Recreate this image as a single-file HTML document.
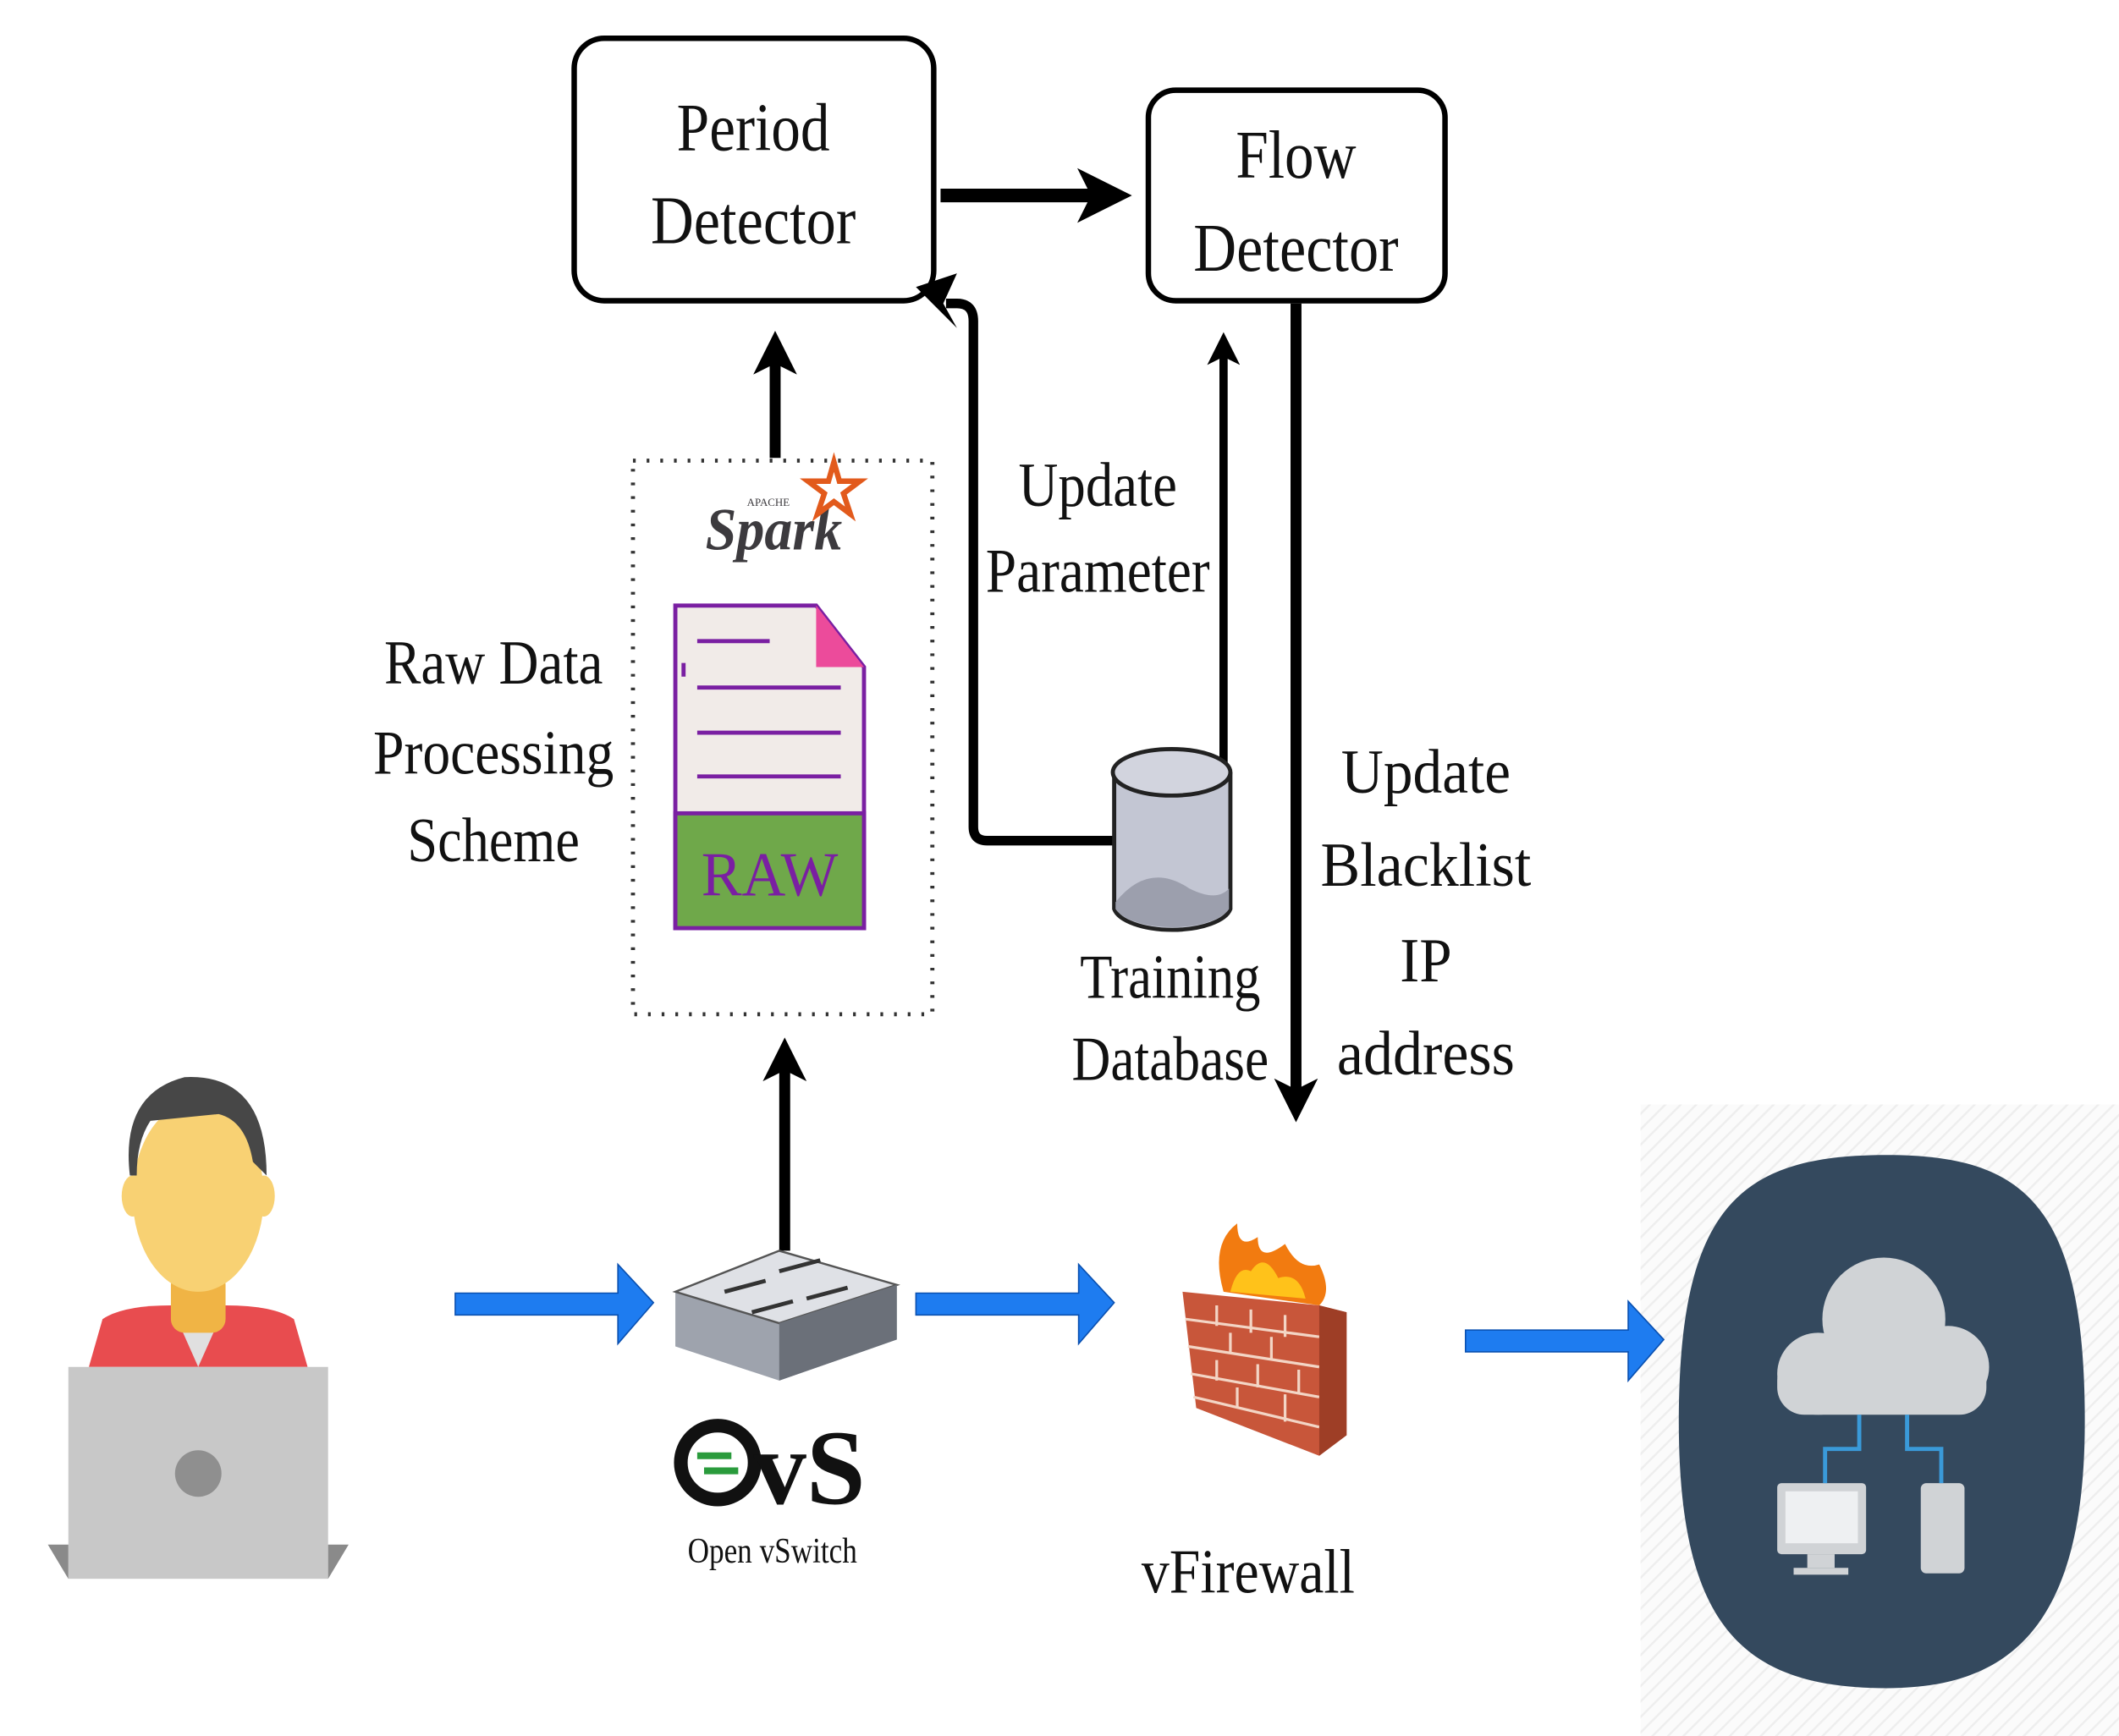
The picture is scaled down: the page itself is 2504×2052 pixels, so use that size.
<!DOCTYPE html>
<html><head><meta charset="utf-8"><style>
html,body{margin:0;padding:0;background:#fff;}
svg{display:block;}
text{font-family:"Liberation Serif",serif;fill:#111;}
</style></head><body>
<svg width="2504" height="2052" viewBox="0 0 1550 1270" preserveAspectRatio="none" xmlns="http://www.w3.org/2000/svg">
<defs>
<marker id="ah" markerWidth="4" markerHeight="4" refX="2" refY="2" orient="auto" markerUnits="strokeWidth">
<path d="M0,0 L4,2 L0,4 L1,2 Z" fill="#000"/></marker>
<pattern id="hatch" width="8" height="8" patternUnits="userSpaceOnUse" patternTransform="rotate(45)">
<rect width="8" height="8" fill="#fbfbfb"/><line x1="0" y1="0" x2="0" y2="8" stroke="#eee" stroke-width="3"/></pattern>
</defs>
<rect x="1200" y="808" width="350" height="462" fill="url(#hatch)"/>
<!-- boxes -->
<rect x="420" y="28" width="263" height="192" rx="22" fill="#fff" stroke="#000" stroke-width="4"/>
<text x="551" y="110" font-size="50" text-anchor="middle" textLength="112" lengthAdjust="spacingAndGlyphs">Period</text>
<text x="551" y="178" font-size="50" text-anchor="middle" textLength="150" lengthAdjust="spacingAndGlyphs">Detector</text>
<rect x="840" y="66" width="217" height="154" rx="20" fill="#fff" stroke="#000" stroke-width="4"/>
<text x="948" y="130" font-size="50" text-anchor="middle" textLength="88" lengthAdjust="spacingAndGlyphs">Flow</text>
<text x="948" y="198" font-size="50" text-anchor="middle" textLength="150" lengthAdjust="spacingAndGlyphs">Detector</text>
<!-- arrows -->
<line x1="688" y1="143" x2="808" y2="143" stroke="#000" stroke-width="10" marker-end="url(#ah)"/>
<line x1="567" y1="335" x2="567" y2="258" stroke="#000" stroke-width="8" marker-end="url(#ah)"/>
<path d="M815,615 L722,615 Q712,615 712,605 L712,235 Q712,222 700,222 L692,222" fill="none" stroke="#000" stroke-width="7"/>
<path d="M670,210 L700,200 L690,222 L700,240 Z" fill="#000"/>
<line x1="895" y1="568" x2="895" y2="255" stroke="#000" stroke-width="6" marker-end="url(#ah)"/>
<line x1="948" y1="222" x2="948" y2="805" stroke="#000" stroke-width="8" marker-end="url(#ah)"/>
<line x1="574" y1="915" x2="574" y2="775" stroke="#000" stroke-width="8" marker-end="url(#ah)"/>
<!-- dotted box -->
<rect x="463" y="337" width="219" height="405" fill="none" stroke="#333" stroke-width="3" stroke-dasharray="2 8"/>
<!-- spark -->
<text x="566" y="402" font-family="Liberation Sans,sans-serif" font-size="44" font-weight="bold" font-style="italic" text-anchor="middle" style="fill:#3c3a3e" textLength="100" lengthAdjust="spacingAndGlyphs">Spark</text>
<text x="562" y="370" font-family="Liberation Sans,sans-serif" font-size="8" text-anchor="middle" style="fill:#3c3a3e">APACHE</text>
<path d="M610,338 L614,352 L629,352 L617,361 L622,376 L610,367 L598,376 L603,361 L591,352 L606,352 Z" fill="none" stroke="#e25a1c" stroke-width="4"/>
<!-- raw file -->
<path d="M494,443 L597,443 L632,488 L632,679 L494,679 Z" fill="#f1ebe8" stroke="#7a1fa2" stroke-width="3"/>
<path d="M597,443 L632,488 L597,488 Z" fill="#ec4b9b"/>
<rect x="494" y="595" width="138" height="84" fill="#6fa84a" stroke="#7a1fa2" stroke-width="3"/>
<g stroke="#7a1fa2" stroke-width="3"><line x1="510" y1="469" x2="563" y2="469"/><line x1="510" y1="503" x2="615" y2="503"/><line x1="510" y1="536" x2="615" y2="536"/><line x1="510" y1="568" x2="615" y2="568"/><line x1="500" y1="485" x2="500" y2="495"/></g>
<text x="563" y="655" font-family="DejaVu Sans,sans-serif" font-size="46" text-anchor="middle" style="fill:#7a1fa2" textLength="100" lengthAdjust="spacingAndGlyphs">RAW</text>
<!-- labels -->
<g font-size="46" text-anchor="middle">
<text x="361" y="500" textLength="160" lengthAdjust="spacingAndGlyphs">Raw Data</text>
<text x="361" y="566" textLength="176" lengthAdjust="spacingAndGlyphs">Processing</text>
<text x="361" y="630" textLength="126" lengthAdjust="spacingAndGlyphs">Scheme</text>
<text x="803" y="370" textLength="116" lengthAdjust="spacingAndGlyphs">Update</text>
<text x="803" y="433" textLength="164" lengthAdjust="spacingAndGlyphs">Parameter</text>
<text x="1043" y="580" textLength="124" lengthAdjust="spacingAndGlyphs">Update</text>
<text x="1043" y="648" textLength="154" lengthAdjust="spacingAndGlyphs">Blacklist</text>
<text x="1043" y="718" textLength="38" lengthAdjust="spacingAndGlyphs">IP</text>
<text x="1043" y="786" textLength="130" lengthAdjust="spacingAndGlyphs">address</text>
<text x="856" y="730" textLength="132" lengthAdjust="spacingAndGlyphs">Training</text>
<text x="856" y="790" textLength="144" lengthAdjust="spacingAndGlyphs">Database</text>
<text x="913" y="1165" textLength="156" lengthAdjust="spacingAndGlyphs">vFirewall</text>
</g>
<!-- database -->
<path d="M815,565 L815,665 A43,18 0 0 0 900,665 L900,565" fill="#c3c6d3" stroke="#222" stroke-width="3"/>
<path d="M816,660 Q840,630 870,650 Q890,660 899,650 L899,665 A43,18 0 0 1 816,665 Z" fill="#9c9fad"/>
<ellipse cx="857" cy="565" rx="43" ry="17" fill="#d2d4de" stroke="#222" stroke-width="3"/>
<!-- blue arrows -->
<g fill="#1e7cf0" stroke="#0a50b0" stroke-width="1">
<path d="M333,946 L452,946 L452,925 L478,953 L452,983 L452,962 L333,962 Z"/>
<path d="M670,946 L789,946 L789,925 L815,953 L789,983 L789,962 L670,962 Z"/>
<path d="M1072,973 L1191,973 L1191,952 L1217,980 L1191,1010 L1191,989 L1072,989 Z"/>
</g>
<!-- person -->
<path d="M65,1000 L75,965 Q90,955 125,955 L165,955 Q200,955 215,965 L225,1000 Z" fill="#e84c4f"/>
<path d="M125,955 L145,1000 L165,955 Z" fill="#e0e0e0"/>
<rect x="125" y="930" width="40" height="45" rx="10" fill="#f0b445"/>
<ellipse cx="145" cy="875" rx="48" ry="70" fill="#f8d173"/>
<ellipse cx="97" cy="875" rx="8" ry="15" fill="#f8d173"/><ellipse cx="193" cy="875" rx="8" ry="15" fill="#f8d173"/>
<path d="M95,860 Q88,800 135,788 Q195,785 195,860 L185,850 Q180,820 160,815 L110,820 Q100,835 100,860 Z" fill="#474747"/>
<rect x="50" y="1000" width="190" height="155" fill="#c8c8c8"/>
<path d="M35,1130 L50,1130 L50,1155 Z M255,1130 L240,1130 L240,1155 Z" fill="#8a8a8a"/>
<circle cx="145" cy="1078" r="17" fill="#8f8f8f"/>
<!-- switch -->
<path d="M494,945 L570,915 L656,940 L656,980 L570,1010 L494,985 Z" fill="#9ea3ad"/>
<path d="M494,945 L570,915 L656,940 L570,968 Z" fill="#dfe1e6" stroke="#555" stroke-width="1.5"/>
<path d="M570,968 L570,1010 L656,980 L656,940 Z" fill="#6b7079"/>
<g stroke="#333" stroke-width="3"><line x1="530" y1="945" x2="560" y2="937"/><line x1="570" y1="930" x2="600" y2="922"/><line x1="550" y1="960" x2="580" y2="952"/><line x1="590" y1="950" x2="620" y2="942"/></g>
<!-- OvS -->
<circle cx="525" cy="1070" r="27" fill="none" stroke="#111" stroke-width="10"/>
<path d="M510,1065 L535,1065 M540,1076 L515,1076" stroke="#2a9b3c" stroke-width="5"/>
<text x="592" y="1100" font-family="Liberation Sans,sans-serif" font-size="78" font-weight="bold" text-anchor="middle" textLength="82" lengthAdjust="spacingAndGlyphs">vS</text>
<text x="565" y="1143" font-family="Liberation Sans,sans-serif" font-size="26" text-anchor="middle" textLength="124" lengthAdjust="spacingAndGlyphs">Open vSwitch</text>
<!-- firewall -->
<path d="M895,945 Q885,910 905,895 Q905,915 920,905 Q920,925 940,910 Q950,930 965,925 Q975,945 965,955 Z" fill="#f27b10"/>
<path d="M900,945 Q905,925 915,930 Q925,915 935,935 Q950,930 955,950 Z" fill="#ffc21a"/>
<path d="M865,945 L965,955 L985,960 L985,1050 L965,1065 L875,1030 Z" fill="#c8563a"/>
<g stroke="#f3d5c5" stroke-width="2" fill="none">
<path d="M867,965 L965,978 M869,985 L965,1000 M871,1005 L965,1022 M873,1022 L965,1044"/>
<path d="M890,955 L890,970 M915,958 L915,975 M940,962 L940,978 M900,975 L900,990 M930,978 L930,995 M890,995 L890,1010 M920,998 L920,1015 M950,1002 L950,1020 M905,1015 L905,1030 M940,1020 L940,1040"/>
</g>
<path d="M965,955 L985,960 L985,1050 L965,1065 Z" fill="#9e3e26"/>
<!-- cloud blob -->
<path d="M1380,845 C1480,845 1525,880 1525,1040 C1525,1190 1470,1235 1380,1235 C1275,1235 1228,1190 1228,1040 C1228,880 1275,845 1380,845 Z" fill="#34495e"/>
<g fill="#d0d3d6">
<circle cx="1378" cy="965" r="45"/><circle cx="1330" cy="1005" r="30"/><circle cx="1425" cy="1000" r="30"/>
<rect x="1300" y="990" width="153" height="45" rx="20"/>
<rect x="1300" y="1085" width="65" height="52" rx="3"/><rect x="1322" y="1137" width="20" height="10"/><rect x="1312" y="1147" width="40" height="5"/>
<rect x="1405" y="1085" width="32" height="66" rx="4"/>
</g>
<rect x="1306" y="1091" width="53" height="38" fill="#eef0f2"/>
<path d="M1360,1035 L1360,1060 L1335,1060 L1335,1085 M1395,1035 L1395,1060 L1420,1060 L1420,1085" fill="none" stroke="#3a9ad9" stroke-width="3"/>
</svg>
</body></html>
